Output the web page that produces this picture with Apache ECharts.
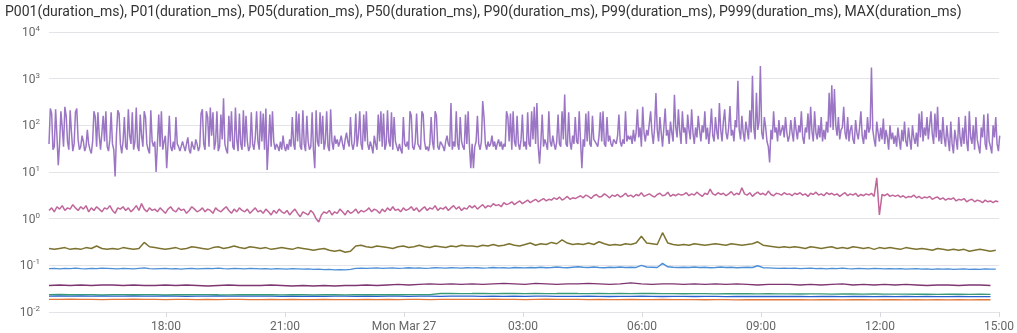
<!DOCTYPE html>
<html>
<head>
<meta charset="utf-8">
<script src="https://cdn.jsdelivr.net/npm/echarts@6/dist/echarts.min.js"></script>
<style>
html,body{margin:0;padding:0;background:#fff;}
#chart{width:1017px;height:333px;}
</style>
</head>
<body>
<div id="chart"></div>
<script>
// ---- data ----
const seriesNames = ['P001(duration_ms)','P01(duration_ms)','P05(duration_ms)','P50(duration_ms)','P90(duration_ms)','P99(duration_ms)','P999(duration_ms)','MAX(duration_ms)'];
const tickLabelsX = ['18:00','21:00','Mon Mar 27','03:00','06:00','09:00','12:00','15:00'];
const startTime = [2023, 2, 26, 15, 3];   // Sun Mar 26 15:03
const endTime = [2023, 2, 27, 15, 0];     // Mon Mar 27 15:00
const tickTimes = [[2023,2,26,18,0],[2023,2,26,21,0],[2023,2,27,0,0],[2023,2,27,3,0],[2023,2,27,6,0],[2023,2,27,9,0],[2023,2,27,12,0],[2023,2,27,15,0]];

// MAX: one value every 2 minutes
const maxStepMin = 2;
const maxValues = [
40,230,180,30,35,220,60,14,40,200,90,35,250,160,45,30,210,70,28,40,190,230,50,30,35,60,45,28,35,80,40,30,25,45,200,150,35,190,60,30,
30,160,45,200,35,28,50,190,40,30,8,60,210,180,40,25,45,150,35,30,220,60,40,190,30,45,240,35,28,170,60,35,200,150,40,30,25,210,45,35,
45,10,40,170,35,200,30,45,60,12,40,160,35,28,45,30,150,40,35,28,30,45,35,28,40,55,30,25,45,35,30,50,40,28,35,180,220,40,30,200,
150,35,240,60,190,30,45,200,28,35,170,50,380,40,30,25,160,45,200,35,30,240,50,28,180,40,30,210,35,160,45,28,35,190,40,30,55,200,45,30,
200,45,180,30,230,11,40,170,35,200,45,30,40,35,28,45,30,60,35,28,40,30,50,35,150,40,30,200,45,180,35,30,210,40,28,160,45,30,35,190,
30,12,210,45,35,190,40,160,30,45,200,35,28,220,45,30,60,40,50,35,45,60,40,30,50,70,45,35,150,40,30,45,180,35,60,200,40,30,170,45,
200,40,30,45,35,25,60,40,30,170,45,200,35,180,30,40,210,45,35,190,30,150,45,35,28,40,30,25,150,40,35,45,30,200,160,35,30,45,180,40,
35,30,200,170,45,30,35,28,40,150,45,30,200,160,35,30,45,40,35,28,45,60,40,35,300,30,45,35,200,40,30,150,45,35,30,170,40,200,35,12,
40,12,35,45,160,40,30,45,330,150,40,30,45,35,40,60,35,45,30,40,50,35,45,30,40,35,200,150,45,180,30,200,45,35,160,40,30,50,170,35,
45,30,190,40,35,200,50,250,40,300,35,15,45,170,35,50,40,30,200,45,35,60,40,30,45,170,40,35,200,50,460,40,35,190,45,30,60,40,150,45,
40,200,45,12,50,35,180,45,200,40,35,160,50,45,40,35,60,190,45,200,40,35,150,45,60,40,35,50,45,40,60,170,45,35,50,40,200,45,60,50,
60,40,80,45,70,220,55,90,35,250,70,45,80,60,110,200,70,40,90,490,80,45,150,70,35,90,230,60,80,40,120,70,45,450,90,55,220,75,40,200,
70,90,40,170,80,50,220,70,40,90,55,160,80,45,100,70,200,50,90,40,80,230,60,45,150,75,50,300,80,45,120,220,70,50,90,260,60,80,45,130,
90,900,80,50,160,70,45,120,80,50,210,70,1150,90,50,500,80,120,1870,70,50,150,90,45,35,16,80,50,200,70,90,45,130,60,80,100,55,150,70,45,
60,130,70,45,150,80,50,100,70,200,55,40,90,70,180,50,250,75,45,200,70,50,100,55,150,45,80,50,120,70,500,90,720,80,600,100,60,150,50,80,
90,250,70,50,150,45,80,100,50,40,130,70,50,90,200,60,40,80,50,150,70,90,1730,80,50,35,120,70,45,90,50,140,40,80,55,30,100,50,70,40,
60,35,90,50,30,80,45,120,45,35,90,50,30,100,55,40,70,35,180,55,200,45,90,60,150,50,55,200,65,40,180,55,250,45,80,40,150,55,35,100,
50,28,120,40,25,80,50,30,150,55,35,90,40,160,45,28,200,55,40,100,30,150,50,35,25,90,55,170,40,30,180,45,35,25,100,55,150,40,28,60
];

// P999: one value every 4 minutes
const p999StepMin = 4;
const p999Values = [
1.5,1.7,1.4,1.8,1.6,1.9,1.5,1.7,1.6,2.0,1.7,1.5,1.8,1.6,1.9,1.4,1.7,1.5,1.8,1.6,1.4,1.7,1.6,1.9,1.5,1.3,1.7,1.6,1.8,1.5,1.7,1.4,1.6,1.9,1.5,2.1,1.6,1.4,1.7,1.5,
1.6,1.4,1.7,1.5,1.3,1.6,1.8,1.5,1.4,1.7,1.5,1.6,1.3,1.5,1.8,1.6,1.4,1.5,1.7,1.4,1.6,1.5,1.3,1.7,1.5,1.4,1.6,1.8,1.5,1.3,1.6,1.4,1.7,1.5,1.4,1.6,1.3,1.5,1.7,1.4,
1.5,1.3,1.6,1.4,1.2,1.5,1.3,1.6,1.4,1.3,1.5,1.2,1.4,1.6,1.3,1.1,1.4,1.3,1.2,1.5,1.3,1.0,0.85,1.2,1.4,1.3,1.5,1.2,1.4,1.3,1.6,1.4,1.2,1.5,1.3,1.4,1.6,1.3,1.5,1.4,
1.5,1.7,1.4,1.6,1.5,1.3,1.6,1.4,1.7,1.5,1.8,1.5,1.6,1.4,1.7,1.5,1.6,1.8,1.5,1.7,1.4,1.6,1.8,1.5,1.7,1.6,1.9,1.5,1.7,1.6,1.8,1.5,1.7,1.9,1.6,1.8,1.5,1.7,1.6,1.9,
1.7,1.9,1.6,1.8,2.0,1.7,1.9,1.8,2.1,1.9,2.0,1.8,2.2,2.0,2.1,2.3,2.0,2.2,2.4,2.1,2.3,2.5,2.2,2.4,2.6,2.3,2.5,2.7,2.4,2.6,2.5,2.8,2.6,2.9,2.5,2.7,3.0,2.6,2.8,2.7,
2.9,3.1,2.8,3.2,3.0,2.7,3.1,3.3,2.9,3.0,3.4,3.1,2.8,3.2,3.0,3.3,2.9,3.1,3.5,3.0,3.2,2.9,3.3,3.1,3.6,3.0,3.2,3.4,3.1,2.9,3.3,3.5,3.1,3.2,3.7,3.0,3.3,3.1,3.4,3.2,
3.3,3.6,3.1,3.4,3.2,3.7,3.3,3.0,3.5,3.3,4.3,3.4,3.2,3.6,3.3,3.5,3.1,3.4,3.8,3.2,3.5,3.3,4.6,3.4,3.2,3.6,3.0,3.4,3.7,3.3,3.5,3.2,3.9,3.3,3.1,3.5,3.4,3.2,3.6,3.3,
3.4,3.1,3.5,3.3,3.6,3.2,3.4,3.0,3.5,3.3,3.7,3.2,3.4,3.1,3.6,3.3,3.5,3.2,3.4,3.0,3.3,3.6,3.1,3.4,3.2,3.5,3.0,3.3,3.1,3.4,3.2,3.5,3.0,7.5,1.2,3.3,3.1,3.4,3.0,3.2,
3.0,3.2,2.9,3.1,2.8,3.0,2.9,3.2,2.8,3.0,2.7,2.9,2.8,3.0,2.6,2.8,2.9,2.6,2.8,2.5,2.7,2.6,2.8,2.4,2.6,2.5,2.7,2.3,2.5,2.6,2.3,2.5,2.4,2.2,2.5,2.3,2.4,2.2,2.4,2.3
];

// P99, P90: one value every 8 minutes
const midStepMin = 8;
const p99Values = [
.23,.22,.23,.24,.22,.23,.22,.24,.23,.26,.23,.22,.23,.22,.24,.23,.22,.23,.31,.25,
.24,.23,.22,.23,.24,.22,.23,.25,.24,.23,.22,.24,.25,.23,.24,.26,.24,.23,.25,.24,
.23,.24,.22,.23,.24,.23,.22,.24,.23,.22,.21,.22,.23,.21,.20,.21,.19,.20,.26,.27,
.25,.24,.26,.25,.24,.23,.25,.26,.24,.25,.27,.25,.24,.26,.25,.24,.26,.25,.27,.26,
.26,.25,.27,.26,.28,.26,.27,.29,.27,.26,.28,.30,.27,.29,.28,.31,.29,.35,.30,.28,
.29,.28,.30,.28,.32,.29,.27,.28,.27,.29,.28,.30,.42,.30,.29,.28,.50,.30,.28,.27,
.28,.27,.29,.28,.27,.28,.29,.28,.27,.29,.28,.27,.28,.29,.32,.27,.26,.25,.24,.25,
.24,.25,.24,.23,.25,.24,.23,.24,.25,.23,.24,.23,.25,.24,.23,.24,.22,.24,.23,.24,
.23,.22,.24,.23,.22,.23,.22,.21,.23,.22,.21,.22,.21,.22,.20,.21,.22,.21,.20,.21
];
const p90Values = [
.085,.086,.084,.086,.085,.087,.085,.084,.086,.085,.087,.086,.085,.084,.086,.085,.084,.086,.088,.085,
.084,.085,.086,.084,.085,.083,.085,.086,.084,.085,.086,.085,.087,.085,.084,.086,.085,.084,.086,.085,
.084,.085,.083,.085,.084,.083,.085,.084,.083,.084,.082,.083,.081,.082,.080,.081,.080,.082,.086,.087,
.086,.087,.088,.086,.087,.088,.086,.087,.089,.087,.088,.086,.087,.089,.088,.087,.089,.088,.087,.089,
.088,.089,.087,.088,.090,.088,.089,.087,.090,.089,.088,.090,.089,.091,.089,.090,.092,.090,.089,.091,
.093,.091,.090,.092,.090,.089,.091,.090,.092,.090,.091,.090,.100,.092,.091,.090,.110,.093,.091,.090,
.091,.090,.092,.090,.091,.089,.090,.092,.090,.091,.089,.090,.091,.090,.098,.089,.088,.087,.086,.087,
.086,.087,.085,.086,.087,.085,.086,.084,.086,.085,.087,.085,.084,.086,.085,.084,.086,.085,.084,.085,
.084,.085,.083,.084,.085,.083,.084,.082,.084,.083,.084,.082,.083,.084,.082,.083,.082,.084,.083,.083
];

// P50, P05, P01, P001: one value every 16 minutes
const lowStepMin = 16;
const p50Values = [
.037,.038,.037,.038,.037,.038,.038,.037,.038,.037,
.037,.038,.037,.038,.037,.036,.037,.038,.037,.037,
.037,.038,.037,.036,.037,.036,.037,.036,.037,.037,
.038,.037,.038,.039,.038,.039,.040,.039,.040,.039,
.040,.039,.040,.041,.040,.039,.041,.040,.039,.040,
.040,.041,.040,.039,.040,.042,.040,.039,.040,.040,
.039,.040,.039,.040,.039,.040,.039,.038,.039,.039,
.039,.038,.039,.038,.039,.040,.038,.039,.038,.039,
.038,.039,.038,.037,.038,.038,.037,.038,.038,.037
];
const p05Values = [
.0235,.0237,.0234,.0236,.0235,.0233,.0236,.0235,.0234,.0236,
.0235,.0233,.0236,.0234,.0235,.0236,.0234,.0233,.0235,.0234,
.0234,.0236,.0233,.0235,.0234,.0232,.0234,.0235,.0233,.0234,
.0235,.0234,.0236,.0234,.0235,.0236,.0235,.0249,.0250,.0248,
.0249,.0251,.0248,.0250,.0249,.0247,.0250,.0248,.0249,.0251,
.0249,.0248,.0250,.0247,.0249,.0248,.0250,.0249,.0247,.0248,
.0246,.0248,.0247,.0245,.0247,.0246,.0248,.0245,.0246,.0244,
.0245,.0243,.0245,.0244,.0242,.0244,.0243,.0241,.0243,.0242,
.0241,.0242,.0240,.0241,.0239,.0240,.0241,.0239,.0240,.0239
];
const p01Values = [
.0219,.0220,.0218,.0221,.0219,.0220,.0218,.0219,.0221,.0219,
.0218,.0220,.0219,.0217,.0219,.0218,.0220,.0219,.0218,.0219,
.0218,.0219,.0217,.0218,.0216,.0218,.0217,.0219,.0218,.0217,
.0218,.0217,.0219,.0218,.0217,.0219,.0218,.0217,.0218,.0219,
.0218,.0217,.0219,.0216,.0218,.0217,.0219,.0218,.0216,.0217,
.0216,.0218,.0217,.0215,.0217,.0216,.0218,.0216,.0215,.0217,
.0216,.0215,.0217,.0216,.0214,.0216,.0215,.0217,.0215,.0216,
.0215,.0216,.0214,.0216,.0215,.0213,.0215,.0216,.0214,.0215,
.0214,.0215,.0213,.0215,.0214,.0213,.0215,.0214,.0213,.0214
];
const p001Values = [
.0187,.0186,.0188,.0186,.0187,.0185,.0187,.0186,.0188,.0186,
.0186,.0185,.0187,.0186,.0184,.0186,.0185,.0187,.0186,.0185,
.0185,.0186,.0184,.0186,.0185,.0184,.0186,.0185,.0184,.0185,
.0186,.0185,.0187,.0185,.0186,.0187,.0185,.0186,.0187,.0186,
.0187,.0186,.0188,.0186,.0187,.0185,.0187,.0188,.0186,.0187,
.0186,.0185,.0187,.0185,.0184,.0186,.0185,.0184,.0186,.0185,
.0184,.0185,.0183,.0185,.0184,.0182,.0184,.0183,.0185,.0183,
.0183,.0184,.0182,.0184,.0183,.0182,.0184,.0183,.0182,.0183,
.0183,.0182,.0184,.0182,.0183,.0181,.0183,.0182,.0184,.0183
];

const colors = ['#e2783b','#2a5fcf','#3a9a78','#7e3670','#4c8fd6','#7d7331','#c0669a','#9b76c4'];
const widths = [1.3, 1.3, 1.3, 1.4, 1.4, 1.5, 1.5, 1.5];

// ---- build ----
const t0 = new Date(...startTime).getTime();
const t1 = new Date(...endTime).getTime();
const ticks = tickTimes.map(a => new Date(...a).getTime());
function pair(values, stepMin) {
  return values.map((v, i) => [t0 + i * stepMin * 60000, v]);
}
const seriesData = [
  pair(p001Values, lowStepMin),
  pair(p01Values, lowStepMin),
  pair(p05Values, lowStepMin),
  pair(p50Values, lowStepMin),
  pair(p90Values, midStepMin),
  pair(p99Values, midStepMin),
  pair(p999Values, p999StepMin),
  pair(maxValues, maxStepMin)
];

const chart = echarts.init(document.getElementById('chart'), null, {renderer: 'canvas'});
chart.setOption({
  animation: false,
  textStyle: {fontFamily: 'Roboto'},
  title: {
    text: seriesNames.join(', '),
    left: 0, top: 0,
    textStyle: {fontFamily: 'Roboto', fontSize: 14, fontWeight: 'normal', color: '#333'}
  },
  grid: {left: 49, right: 14, top: 32, bottom: 20, containLabel: false},
  xAxis: {
    type: 'value',
    min: t0, max: t1,
    axisLine: {show: false},
    axisTick: {show: true, length: 5, lineStyle: {color: '#d8d8de'}, customValues: ticks},
    splitLine: {show: false},
    axisLabel: {
      customValues: ticks,
      color: '#666', fontSize: 12, margin: 9,
      formatter: function (v) {
        const i = ticks.indexOf(v);
        return i >= 0 ? tickLabelsX[i] : '';
      }
    }
  },
  yAxis: {
    type: 'log', logBase: 10, min: 0.01, max: 10000,
    axisLine: {show: false}, axisTick: {show: false},
    splitLine: {lineStyle: {color: '#e3e3e8', width: 1}},
    axisLabel: {
      margin: 9, color: '#666', fontSize: 12,
      formatter: function (v) { return '{b|10}{s|' + Math.round(Math.log10(v)) + '}'; },
      rich: {
        b: {fontSize: 12, color: '#666', fontFamily: 'Roboto', verticalAlign: 'bottom', lineHeight: 14},
        s: {fontSize: 8, color: '#666', fontFamily: 'Roboto', verticalAlign: 'top', lineHeight: 14, padding: [0, 0, 6, 0]}
      }
    }
  },
  series: seriesData.map((d, i) => ({
    name: seriesNames[i], type: 'line', data: d, showSymbol: false, symbol: 'none',
    lineStyle: {width: widths[i], color: colors[i]},
    itemStyle: {color: colors[i]},
    z: i + 2
  }))
});
</script>
</body>
</html>
